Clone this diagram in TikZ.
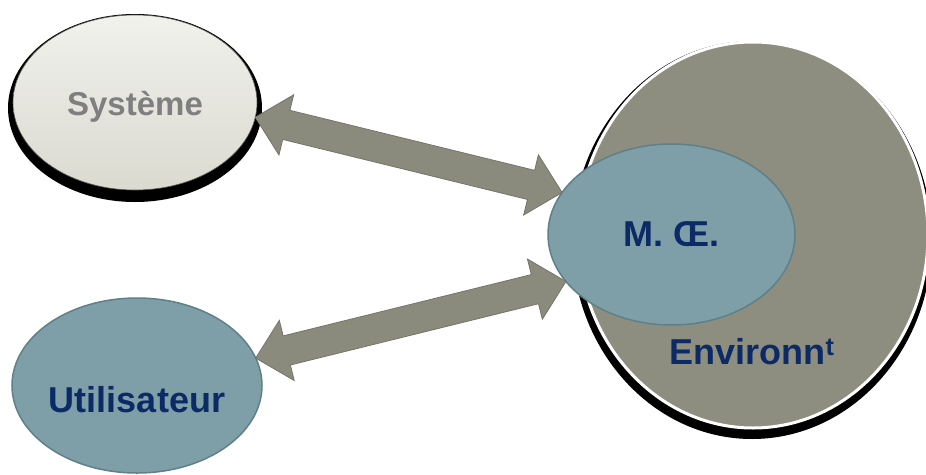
\documentclass[tikz,border=0pt]{standalone}
\usepackage{fontspec}
\setmainfont{Liberation Sans}
\usetikzlibrary{shapes.geometric,calc,backgrounds}

\definecolor{systop}{HTML}{F1F1ED}
\definecolor{sysbot}{HTML}{DADAD0}
\definecolor{sysline}{HTML}{5A5A52}
\definecolor{systext}{HTML}{7F7F7F}
\definecolor{bluefill}{HTML}{7E9EA8}
\definecolor{blueline}{HTML}{5F7F89}
\definecolor{bluetext}{HTML}{0B2A66}
\definecolor{envfill}{HTML}{8E8E80}
\definecolor{arrowfill}{HTML}{8B8B7D}
\definecolor{arrowline}{HTML}{74746A}

\begin{document}
\begin{tikzpicture}[x=1pt,y=-1pt,
  bubble/.style={ellipse,inner sep=0pt,outer sep=0pt},
  bigtext/.style={font=\fontsize{36}{40}\selectfont\bfseries},
  sysnode/.style={bubble,top color=systop,bottom color=sysbot,draw=sysline,line width=0.6pt},
  bluenode/.style={bubble,fill=bluefill,draw=blueline,line width=1.5pt,text=bluetext,bigtext},
  envnode/.style={bubble,fill=envfill,draw=white,line width=3pt},
  fatarrow/.style={fill=arrowfill,draw=arrowline,line width=0.8pt,line join=miter,
    to path={
      ($(\tikztostart)!32pt!(\tikztotarget)$) coordinate (ha)
      ($(\tikztotarget)!32pt!(\tikztostart)$) coordinate (hb)
      (\tikztostart) -- ($(ha)!31pt!90:(\tikztotarget)$) -- ($(ha)!15pt!90:(\tikztotarget)$)
      -- ($(hb)!15pt!-90:(\tikztostart)$) -- ($(hb)!31pt!-90:(\tikztostart)$)
      -- (\tikztotarget) -- ($(hb)!31pt!90:(\tikztostart)$) -- ($(hb)!15pt!90:(\tikztostart)$)
      -- ($(ha)!15pt!-90:(\tikztotarget)$) -- ($(ha)!31pt!-90:(\tikztotarget)$) -- cycle}}
]
\useasboundingbox (0,0) rectangle (926,474);

% define the bubbles
  \node[envnode,minimum width=350pt,minimum height=386pt] (env) at (753,235) {};
  \node[sysnode,minimum width=244pt,minimum height=175pt] (sys) at (135,102.5) {};
  \node[bluenode,minimum width=250pt,minimum height=175pt] (util) at (137,385.5) {};
  \node[bluenode,minimum width=247pt,minimum height=181pt] (moe) at (671.5,234.5) {M. Œ.};

% texts set apart from the centres
  \node[font=\fontsize{33}{40}\selectfont\bfseries,text=systext] (systext) at ([yshift=-4pt]sys.center) {Système};
  \node[bigtext,text=bluetext] (utiltext) at ([yshift=-14pt]util.center) {Utilisateur};
  \node[bigtext,text=bluetext] (envtext) at (752,352) {Environn\textsuperscript{t}};

% shadows
  \begin{scope}[on background layer]
    \fill[black] ([yshift=-5.5pt]sys.center) ellipse [x radius=127pt, y radius=94pt];
    \fill[black] ([xshift=-1pt,yshift=-5pt]env.center) ellipse [x radius=180pt, y radius=199pt];
  \end{scope}

% define the links
  \draw[fatarrow] (sys.-7) to (moe.159);
  \draw[fatarrow] (util.13) to (moe.204);
\end{tikzpicture}
\end{document}
